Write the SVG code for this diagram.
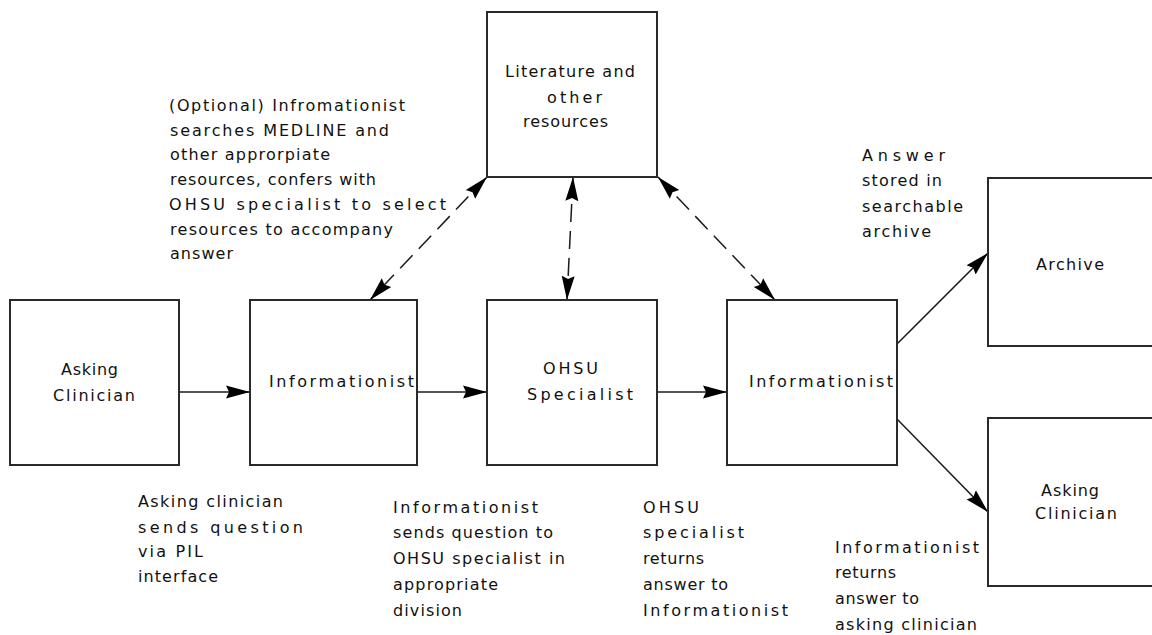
<svg xmlns="http://www.w3.org/2000/svg" width="1152" height="635" viewBox="0 0 1152 635">
<style>
  .box { fill: #ffffff; stroke: #2a2a2a; stroke-width: 2; }
  .t { font-family: "DejaVu Sans", "Liberation Sans", sans-serif; font-size: 16px; fill: #111111; }
  .solid { fill: none; stroke: #1a1a1a; stroke-width: 1.5; }
  .dash { fill: none; stroke: #1a1a1a; stroke-width: 1.5; stroke-dasharray: 18 9; }
</style>
<defs>
  <marker id="ah" markerUnits="userSpaceOnUse" markerWidth="26" markerHeight="16" refX="24" refY="7" orient="auto-start-reverse" viewBox="0 0 26 16">
    <path d="M0,0.5 L24,7 L0,13.5 L3,7 z" fill="#000000"/>
  </marker>
</defs>
<rect width="1152" height="635" fill="#ffffff"/>

<g id="connectors">
  <line class="solid" x1="179" y1="392" x2="250" y2="392" marker-end="url(#ah)"/>
  <line class="solid" x1="417" y1="392" x2="487" y2="392" marker-end="url(#ah)"/>
  <line class="solid" x1="657" y1="392" x2="727" y2="392" marker-end="url(#ah)"/>
  <line class="solid" x1="897" y1="344" x2="988" y2="253" marker-end="url(#ah)"/>
  <line class="solid" x1="897" y1="419" x2="988" y2="512" marker-end="url(#ah)"/>
  <line class="dash" x1="487" y1="177" x2="370" y2="300" marker-start="url(#ah)" marker-end="url(#ah)"/>
  <line class="dash" x1="573" y1="177" x2="567" y2="300" marker-start="url(#ah)" marker-end="url(#ah)"/>
  <line class="dash" x1="658" y1="177" x2="775" y2="300" marker-start="url(#ah)" marker-end="url(#ah)"/>
</g>

<g id="literature">
  <rect class="box" x="487" y="12" width="170" height="165"/>
  <text class="t" x="505" y="77" textLength="130" lengthAdjust="spacing">Literature and</text>
  <text class="t" x="547" y="103" textLength="55" lengthAdjust="spacing">other</text>
  <text class="t" x="523" y="127" textLength="85" lengthAdjust="spacing">resources</text>
</g>

<g id="asking-clinician-1">
  <rect class="box" x="10" y="300" width="169" height="165"/>
  <text class="t" x="61" y="375" textLength="57" lengthAdjust="spacing">Asking</text>
  <text class="t" x="53" y="401" textLength="82" lengthAdjust="spacing">Clinician</text>
</g>

<g id="informationist-1">
  <rect class="box" x="250" y="300" width="167" height="165"/>
  <text class="t" x="269" y="387" textLength="145" lengthAdjust="spacing">Informationist</text>
</g>

<g id="ohsu-specialist">
  <rect class="box" x="487" y="300" width="170" height="165"/>
  <text class="t" x="543" y="374" textLength="55" lengthAdjust="spacing">OHSU</text>
  <text class="t" x="527" y="400" textLength="106" lengthAdjust="spacing">Specialist</text>
</g>

<g id="informationist-2">
  <rect class="box" x="727" y="300" width="170" height="165"/>
  <text class="t" x="749" y="387" textLength="144" lengthAdjust="spacing">Informationist</text>
</g>

<g id="archive">
  <rect class="box" x="988" y="178" width="168" height="168"/>
  <text class="t" x="1036" y="270" textLength="68" lengthAdjust="spacing">Archive</text>
</g>

<g id="asking-clinician-2">
  <rect class="box" x="988" y="418" width="168" height="168"/>
  <text class="t" x="1041" y="496" textLength="58" lengthAdjust="spacing">Asking</text>
  <text class="t" x="1035" y="519" textLength="82" lengthAdjust="spacing">Clinician</text>
</g>

<g id="labels">
  <text class="t" x="169" y="111" textLength="236" lengthAdjust="spacing">(Optional)  Infromationist</text>
  <text class="t" x="170" y="135.5" textLength="219" lengthAdjust="spacing">searches MEDLINE and</text>
  <text class="t" x="170" y="160" textLength="160" lengthAdjust="spacing">other approrpiate</text>
  <text class="t" x="170" y="185" textLength="206" lengthAdjust="spacing">resources, confers with</text>
  <text class="t" x="169" y="210" textLength="277" lengthAdjust="spacing">OHSU specialist to select</text>
  <text class="t" x="170" y="234.5" textLength="223" lengthAdjust="spacing">resources to accompany</text>
  <text class="t" x="170" y="259" textLength="63" lengthAdjust="spacing">answer</text>

  <text class="t" x="862" y="161" textLength="83" lengthAdjust="spacing">Answer</text>
  <text class="t" x="862" y="186" textLength="80" lengthAdjust="spacing">stored in</text>
  <text class="t" x="862" y="212" textLength="101" lengthAdjust="spacing">searchable</text>
  <text class="t" x="862" y="237" textLength="69" lengthAdjust="spacing">archive</text>

  <text class="t" x="138" y="507" textLength="145" lengthAdjust="spacing">Asking clinician</text>
  <text class="t" x="138" y="533" textLength="165" lengthAdjust="spacing">sends question</text>
  <text class="t" x="138" y="557" textLength="65" lengthAdjust="spacing">via PIL</text>
  <text class="t" x="138" y="582" textLength="80" lengthAdjust="spacing">interface</text>

  <text class="t" x="393" y="513" textLength="145" lengthAdjust="spacing">Informationist</text>
  <text class="t" x="393" y="538" textLength="160" lengthAdjust="spacing">sends question to</text>
  <text class="t" x="393" y="564" textLength="172" lengthAdjust="spacing">OHSU specialist in</text>
  <text class="t" x="393" y="590" textLength="105" lengthAdjust="spacing">appropriate</text>
  <text class="t" x="393" y="616" textLength="69" lengthAdjust="spacing">division</text>

  <text class="t" x="643" y="513" textLength="56" lengthAdjust="spacing">OHSU</text>
  <text class="t" x="643" y="538" textLength="101" lengthAdjust="spacing">specialist</text>
  <text class="t" x="643" y="564" textLength="61" lengthAdjust="spacing">returns</text>
  <text class="t" x="643" y="590" textLength="85" lengthAdjust="spacing">answer to</text>
  <text class="t" x="643" y="616" textLength="145" lengthAdjust="spacing">Informationist</text>

  <text class="t" x="835" y="553" textLength="144" lengthAdjust="spacing">Informationist</text>
  <text class="t" x="835" y="578" textLength="61" lengthAdjust="spacing">returns</text>
  <text class="t" x="835" y="604" textLength="84" lengthAdjust="spacing">answer to</text>
  <text class="t" x="835" y="630" textLength="142" lengthAdjust="spacing">asking clinician</text>
</g>
</svg>
